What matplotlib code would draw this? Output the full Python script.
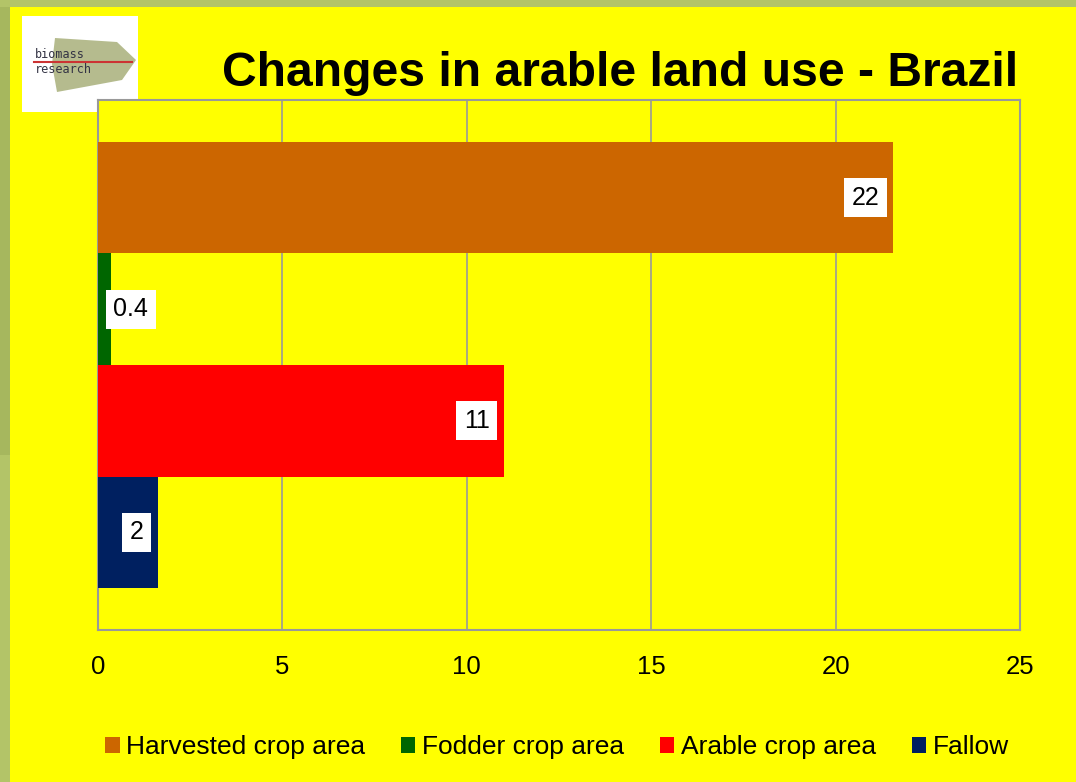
import matplotlib
matplotlib.use("Agg")
import matplotlib.pyplot as plt
from matplotlib.patches import Rectangle, Polygon

plt.rcParams['font.family'] = ['Liberation Sans', 'DejaVu Sans']

categories = ["Harvested crop area", "Fodder crop area", "Arable crop area", "Fallow"]
values = [21.56, 0.35, 11.0, 1.62]
value_labels = ["22", "0.4", "11", "2"]
colors = ["#CC6600", "#006600", "#FF0000", "#002060"]
xticks = [0, 5, 10, 15, 20, 25]
title = "Changes in arable land use - Brazil"

W, H = 1076, 782
fig = plt.figure(figsize=(W / 100, H / 100), dpi=100)
fig.patch.set_facecolor("#FFFF00")

def px(x0, y0, w, h):
    return [x0 / W, 1 - (y0 + h) / H, w / W, h / H]

# olive frame on top and left
fig.patches.append(Rectangle((0, 1 - 7 / H), 1, 7 / H, transform=fig.transFigure,
                             facecolor="#B3C468", edgecolor="none", zorder=0))
fig.patches.append(Rectangle((0, 0), 10 / W, 1, transform=fig.transFigure,
                             facecolor="#B3C468", edgecolor="none", zorder=0))
fig.patches.append(Rectangle((0, 1 - 455 / H), 10 / W, 448 / H, transform=fig.transFigure,
                             facecolor="#A3B45C", edgecolor="none", zorder=0, alpha=0.8))

# logo
lax = fig.add_axes(px(22, 16, 116, 96))
lax.set_xlim(0, 116)
lax.set_ylim(96, 0)
lax.set_facecolor("white")
lax.set_xticks([])
lax.set_yticks([])
for s in lax.spines.values():
    s.set_visible(False)
lax.add_patch(Polygon([[33, 22], [95, 26], [114, 44], [100, 64], [35, 76], [30, 48]],
                      closed=True, facecolor="#A8B07A", edgecolor="none", alpha=0.85))
lax.plot([12, 110], [46, 46], color="#CC3333", lw=1.5)
lax.text(13, 45, "biomass", fontsize=8.5, family="DejaVu Sans Mono", color="#333344", va="bottom")
lax.text(13, 47, "research", fontsize=8.5, family="DejaVu Sans Mono", color="#333344", va="top")

ax = fig.add_axes(px(98, 100, 922, 530))
ax.set_facecolor("#FFFF00")
ypos = list(range(len(categories)))
bars = ax.barh(ypos, values, height=1.0, color=colors, zorder=3)
ax.set_xlim(0, 25)
ax.set_ylim(3.5 + 0.375, -0.5 - 0.375)
ax.set_xticks(xticks)
ax.set_xticklabels([str(t) for t in xticks], fontsize=18.5)
ax.tick_params(axis="x", length=0, pad=18)
ax.set_yticks([])
ax.grid(axis="x", color="#999999", lw=1.2, zorder=1)
for s in ax.spines.values():
    s.set_color("#999999")
    s.set_linewidth(1.5)

for y, v, lab in zip(ypos, values, value_labels):
    if v < 1:
        ax.annotate(lab, (0, y), xytext=(11, 0), textcoords="offset points",
                    ha="left", va="center", fontsize=18, zorder=5,
                    bbox=dict(boxstyle="square,pad=0.3", fc="white", ec="none"))
    else:
        ax.annotate(lab, (v, y), xytext=(-10, 0), textcoords="offset points",
                    ha="right", va="center", fontsize=18, zorder=5,
                    bbox=dict(boxstyle="square,pad=0.3", fc="white", ec="none"))

fig.text(620 / W, 1 - 73 / H, title, fontsize=34.6, fontweight="bold",
         ha="center", va="center")

leg = fig.legend(bars, categories, loc="center", bbox_to_anchor=(557 / W, 1 - 747 / H),
                 ncol=4, frameon=False, fontsize=19, handlelength=0.55, handleheight=0.55,
                 handletextpad=0.25, columnspacing=1.35)

fig.savefig("out.png", dpi=100, facecolor=fig.get_facecolor())
